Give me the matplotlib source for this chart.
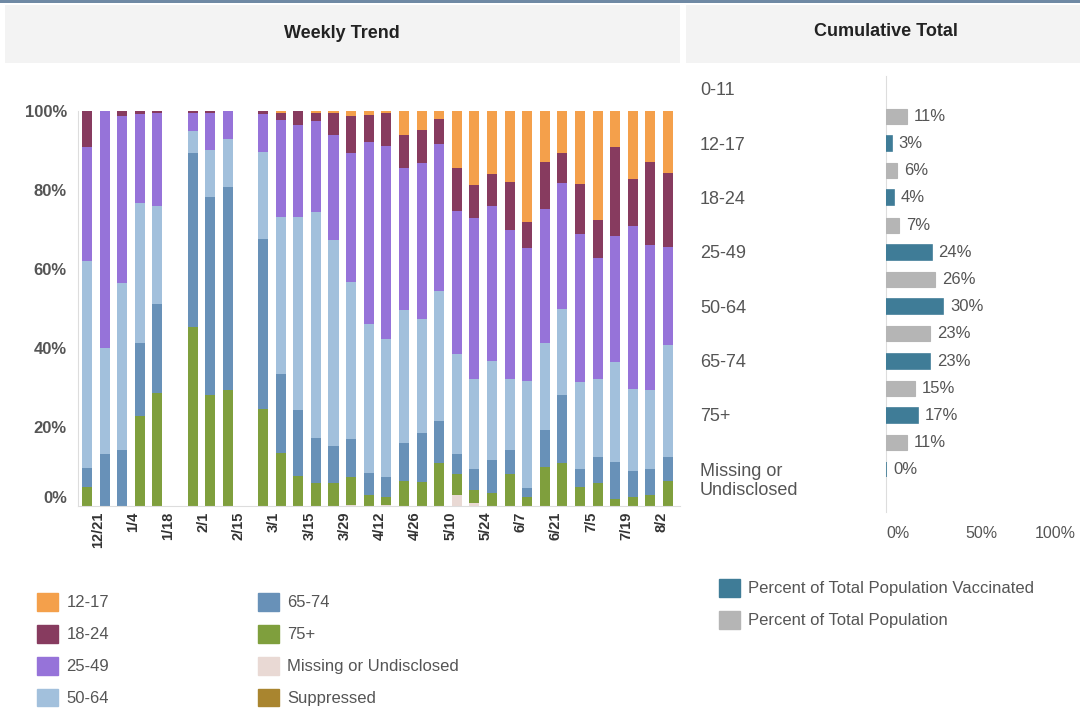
import numpy as np
import pandas as pd
import matplotlib
matplotlib.use("Agg")
import matplotlib.pyplot as plt
import matplotlib.transforms as mtransforms
from matplotlib.patches import Patch, Rectangle

plt.rcParams['font.family'] = ['Liberation Sans', 'DejaVu Sans']

# ── Weekly trend: share of doses by age group (percent of each week) ────────
week_start = pd.date_range("2020-12-14", periods=34, freq="7D")

missing = [0, 0, 0, 0, 0, 0, 0, 0, 0, 0, 0, 0, 0, 0, 0, 0.3, 0, 0.3, 0, 0,
           0, 2.8, 0.8, 0, 0, 0, 0, 0, 0, 0, 0, 0, 0, 0]
age_75 = [4.9, 0, 0, 22.9, 28.5, 0, 45.2, 28.1, 29.4, 0, 24.5, 13.3, 7.7, 5.7,
          5.7, 7.0, 2.8, 1.9, 6.4, 6.2, 10.8, 5.3, 3.3, 3.2, 8.1, 2.2, 10.0,
          10.8, 4.9, 5.7, 1.7, 2.2, 2.8, 6.4]
age_65 = [4.8, 13.2, 14.2, 18.3, 22.6, 0, 44.1, 50.2, 51.3, 0, 43.0, 20.0,
          16.6, 11.6, 9.5, 9.6, 5.6, 5.1, 9.6, 12.2, 10.7, 5.1, 5.2, 8.4, 6.1,
          2.3, 9.2, 17.3, 4.4, 6.8, 9.5, 6.7, 6.5, 6.1]
age_50 = [52.3, 26.9, 42.2, 35.6, 24.9, 0, 5.6, 11.8, 12.1, 0, 22.2, 39.9,
          48.9, 57.2, 52.1, 39.9, 37.6, 34.9, 33.6, 28.9, 33.0, 25.2, 22.8,
          25.2, 17.9, 27.1, 22.0, 21.9, 22.0, 19.6, 25.2, 20.8, 20.1, 28.3]
age_25 = [28.8, 59.9, 42.3, 22.4, 23.5, 0, 4.6, 9.4, 11.9, 0, 9.5, 24.5, 23.3,
          23.0, 26.6, 32.5, 46.1, 49.0, 36.0, 39.6, 37.1, 36.4, 40.7, 39.1,
          37.9, 33.6, 34.0, 31.7, 37.6, 30.8, 32.0, 41.2, 36.7, 24.8]
age_18 = [9.2, 0, 1.3, 0.8, 0.5, 0, 0.5, 0.5, 0.5, 0, 0.8, 1.8, 3.5, 2.0, 5.6,
          9.5, 6.8, 8.3, 8.3, 8.3, 6.4, 10.7, 8.4, 8.1, 11.9, 6.8, 12.0, 7.6,
          12.6, 9.5, 22.4, 11.9, 21.1, 18.8]
age_12 = [0, 0, 0, 0, 0, 0, 0, 0, 0, 0, 0, 0.5, 0, 0.5, 0.5, 1.2, 1.1, 0.5,
          6.1, 4.8, 2.0, 14.5, 18.8, 16.0, 18.1, 28.0, 12.8, 10.7, 18.5, 27.6,
          9.2, 17.2, 12.8, 15.6]
suppressed = [0] * 34

# ── Cumulative total by age group ───────────────────────────────────────────
cum_groups = ["0-11", "12-17", "18-24", "25-49", "50-64", "65-74", "75+",
              "Missing or\nUndisclosed"]
pct_vaccinated = [np.nan, 3, 4, 24, 30, 23, 17, 0]
pct_population = [11, 6, 7, 26, 23, 15, 11, np.nan]

# stacking order bottom -> top
stack = [
    ("Missing or Undisclosed", missing, '#e9d9d4'),
    ("Suppressed", suppressed, '#a9852f'),
    ("75+", age_75, '#7f9f3d'),
    ("65-74", age_65, '#6891b8'),
    ("50-64", age_50, '#a2c0dc'),
    ("25-49", age_25, '#9673d9'),
    ("18-24", age_18, '#873b5f'),
    ("12-17", age_12, '#f4a04b'),
]
colors = {name: c for name, _, c in stack}
teal, grey = '#3f7c97', '#b5b5b5'
txt = '#555555'

W, H = 1080, 711
fig = plt.figure(figsize=(W / 100, H / 100), dpi=100)

# background layer in pixel coordinates: header strips
bg = fig.add_axes([0, 0, 1, 1])
bg.set_xlim(0, W)
bg.set_ylim(H, 0)
bg.axis('off')
bg.add_patch(Rectangle((0, 0), W, 3, color='#6f89a4', lw=0))
bg.add_patch(Rectangle((5, 5), 675, 58, color='#f3f3f3', lw=0))
bg.add_patch(Rectangle((686, 5), 394, 58, color='#f3f3f3', lw=0))
bg.text(342, 33, "Weekly Trend", ha='center', va='center', fontsize=13,
        fontweight='bold', color='#222222')
bg.text(886, 32, "Cumulative Total", ha='center', va='center', fontsize=13,
        fontweight='bold', color='#222222')

# ── Left: weekly stacked bars ───────────────────────────────────────────────
ax = fig.add_axes([78 / W, 1 - 506 / H, 602 / W, 395 / H])
ax.patch.set_visible(False)
x = np.arange(len(week_start))
bottom = np.zeros(len(x))
for name, vals, color in stack:
    vals = np.asarray(vals, dtype=float)
    ax.bar(x, vals, 0.57, bottom=bottom, color=color, linewidth=0)
    bottom += vals

ax.set_xlim(-0.51, 33.68)
ax.set_ylim(0, 100)
for s in ['top', 'right']:
    ax.spines[s].set_visible(False)
for s in ['left', 'bottom']:
    ax.spines[s].set_color('#dddddd')
ax.set_yticks(range(0, 101, 20))
ax.set_yticklabels([f"{v}%" for v in range(0, 101, 20)], fontsize=12,
                   fontweight='bold', color=txt)
ax.get_yticklabels()[0].set_va('bottom')
ax.tick_params(axis='y', length=0, pad=8)
ax.set_xticks(x[1::2] - 0.37)
ax.set_xticklabels([f"{d.month}/{d.day}" for d in week_start[1::2]],
                   rotation=90, fontsize=10.5, fontweight='bold', color='#333333')
ax.tick_params(axis='x', length=0, pad=4)

# ── Right: cumulative horizontal bars ───────────────────────────────────────
ax2 = fig.add_axes([886 / W, 1 - 512 / H, 190 / W, 436 / H])
ax2.patch.set_visible(False)
rows = np.arange(len(cum_groups)) * 2
for y, v in zip(rows, pct_vaccinated):
    if np.isnan(v):
        continue
    ax2.barh(y, v, 0.55, color=teal, edgecolor=teal, linewidth=1.2, zorder=3)
    ax2.annotate(f"{v:.0f}%", (v, y), xytext=(5, 0), textcoords='offset points',
                 va='center', fontsize=12, color=txt)
for y, v in zip(rows + 1, pct_population):
    if np.isnan(v):
        continue
    ax2.barh(y, v, 0.55, color=grey, edgecolor=grey, linewidth=0.8, zorder=3)
    ax2.annotate(f"{v:.0f}%", (v, y), xytext=(5, 0), textcoords='offset points',
                 va='center', fontsize=12, color=txt)

ax2.set_xlim(0, 100)
ax2.set_ylim(15.55, -0.48)
for s in ['top', 'right', 'bottom']:
    ax2.spines[s].set_visible(False)
ax2.spines['left'].set_color('#dddddd')
ax2.spines['left'].set_zorder(1)
ax2.set_yticks([])
ax2.set_xticks([0, 50, 100])
ax2.set_xticklabels(["0%", "50%", "100%"], fontsize=11.5, color=txt)
ax2.get_xticklabels()[0].set_ha('left')
ax2.get_xticklabels()[2].set_ha('right')
ax2.tick_params(axis='x', length=0, pad=10)

trans = mtransforms.blended_transform_factory(fig.transFigure, ax2.transData)
for y, label in zip(rows, cum_groups):
    ax2.annotate(label, (700 / W, y), xycoords=trans, xytext=(0, 5),
                 textcoords='offset points', va='top', ha='left',
                 fontsize=13, color=txt, linespacing=1.15)

# ── Legends ─────────────────────────────────────────────────────────────────
leg_kw = dict(frameon=False, fontsize=12, handlelength=1.26, handleheight=1.26,
              handletextpad=0.5, labelspacing=0.85, borderpad=0,
              borderaxespad=0, loc='upper left', labelcolor=txt)
col1 = ["12-17", "18-24", "25-49", "50-64"]
col2 = ["65-74", "75+", "Missing or Undisclosed", "Suppressed"]
l1 = fig.legend([Patch(color=colors[n]) for n in col1], col1,
                bbox_to_anchor=(37 / W, 1 - 593 / H), **leg_kw)
l2 = fig.legend([Patch(color=colors[n]) for n in col2], col2,
                bbox_to_anchor=(258 / W, 1 - 593 / H), **leg_kw)
l3 = fig.legend([Patch(color=teal), Patch(color=grey)],
                ["Percent of Total Population Vaccinated",
                 "Percent of Total Population"],
                bbox_to_anchor=(719 / W, 1 - 579 / H), **leg_kw)

fig.savefig("out.png", dpi=100)
